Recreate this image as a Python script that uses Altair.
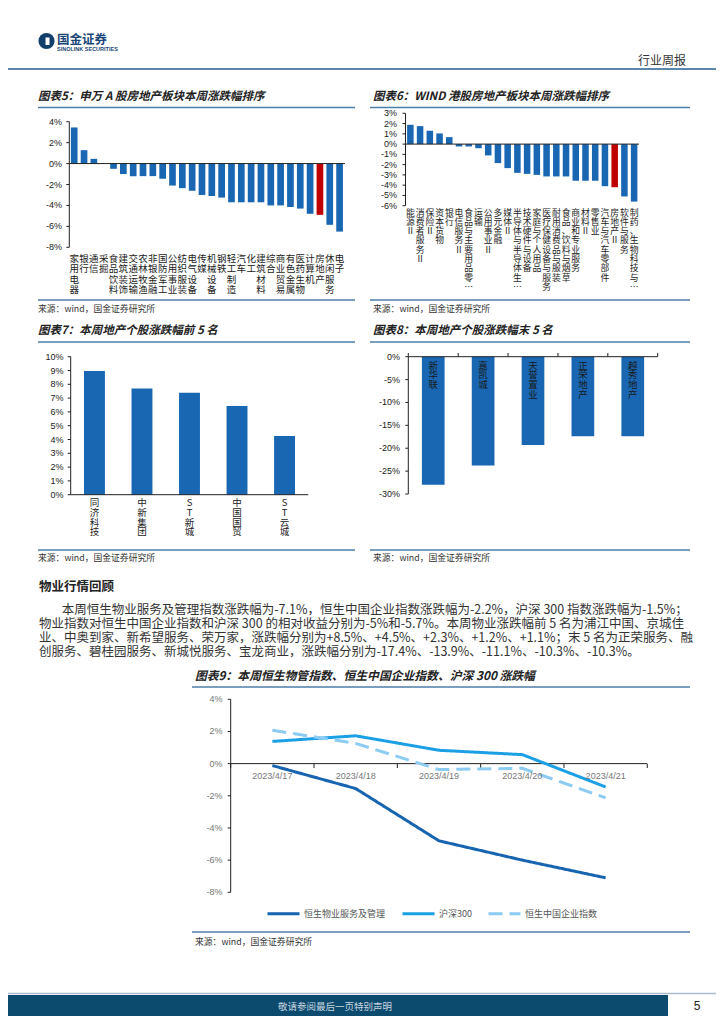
import altair as alt
import pandas as pd

CJK = "Noto Sans CJK SC"
LAT = "Liberation Sans"
BLUE = "#1967b3"
RED = "#c00000"
STEEL = "#4d7ea8"
INK = "#222222"

# ---------------- data ----------------
sw_industries = ["家用电器", "银行", "通信", "采掘", "食品饮料", "建筑装饰", "交通运输", "农林牧渔",
                 "非银金融", "国防军工", "公用事业", "纺织服装", "电气设备", "传媒", "机械设备", "钢铁",
                 "轻工制造", "汽车", "化工", "建筑材料", "综合", "商业贸易", "有色金属", "医药生物",
                 "计算机", "房地产", "休闲服务", "电子"]
sw_changes = [3.45, 1.28, 0.45, 0.0, -0.5, -1.0, -1.2, -1.2, -1.2, -1.45, -2.1, -2.35, -2.6, -3.0,
              -3.1, -3.25, -3.7, -3.7, -3.7, -3.7, -4.0, -4.0, -4.15, -4.3, -4.8, -4.9, -5.85, -6.5]

hk_industries = ["能源Ⅱ", "消费者服务Ⅱ", "保险Ⅱ", "资本货物", "银行", "电信服务Ⅱ", "食品与主要用品零…",
                 "运输", "公用事业Ⅱ", "多元金融", "媒体Ⅱ", "半导体与半导体生…", "技术硬件与设备",
                 "家庭与个人用品", "医疗保健设备与服务", "耐用消费品与服装", "食品、饮料与烟草",
                 "商业和专业服务", "材料Ⅱ", "零售业", "汽车与汽车零部件", "房地产Ⅱ", "软件与服务",
                 "制药、生物科技与…"]
hk_changes = [1.88, 1.75, 1.3, 1.04, 0.68, -0.23, -0.23, -0.4, -1.1, -1.85, -2.34, -2.8, -2.9, -3.0,
              -3.15, -3.15, -3.15, -3.57, -3.57, -3.57, -4.1, -4.2, -5.1, -5.6]

top5_names = ["同济科技", "中新集团", "ST新城", "中国国贸", "ST云城"]
top5_changes = [8.96, 7.7, 7.39, 6.43, 4.25]

bottom5_names = ["新华联", "嘉凯城", "天誉置业", "正荣地产", "越秀地产"]
bottom5_changes = [-28.0, -23.8, -19.3, -17.4, -17.4]

dates = ["2023/4/17", "2023/4/18", "2023/4/19", "2023/4/20", "2023/4/21"]
series_names = ["恒生物业服务及管理", "沪深300", "恒生中国企业指数"]
hs_property = [-0.12, -1.55, -4.8, -6.0, -7.1]
hs300 = [1.38, 1.73, 0.83, 0.56, -1.45]
hscei = [2.07, 1.26, -0.37, -0.29, -2.13]

ticks5 = [4, 2, 0, -2, -4, -6, -8]
ticks6 = [3, 2, 1, 0, -1, -2, -3, -4, -5, -6]
ticks7 = [10, 9, 8, 7, 6, 5, 4, 3, 2, 1, 0]
ticks8 = [0, -5, -10, -15, -20, -25, -30]
ticks9 = [4, 2, 0, -2, -4, -6, -8]

para_lines = [
    "本周恒生物业服务及管理指数涨跌幅为-7.1%，恒生中国企业指数涨跌幅为-2.2%，沪深 300 指数涨跌幅为-1.5%；",
    "物业指数对恒生中国企业指数和沪深 300 的相对收益分别为-5%和-5.7%。本周物业涨跌幅前 5 名为浦江中国、京城佳",
    "业、中奥到家、新希望服务、荣万家，涨跌幅分别为+8.5%、+4.5%、+2.3%、+1.2%、+1.1%；末 5 名为正荣服务、融",
    "创服务、碧桂园服务、新城悦服务、宝龙商业，涨跌幅分别为-17.4%、-13.9%、-11.1%、-10.3%、-10.3%。",
]

SOURCE = "来源：wind，国金证券研究所"


def P(v):
    return v - 8


layers = []
ONE = pd.DataFrame({"k": [0]})


def text(s, x, y, size=10, color=INK, weight="normal", style="normal", font=CJK,
         align="left", baseline="middle"):
    layers.append(
        alt.Chart(pd.DataFrame({"t": [s]}))
        .mark_text(align=align, baseline=baseline, font=font, fontSize=size,
                   fontWeight=weight, fontStyle=style, color=color)
        .encode(x=alt.value(P(x)), y=alt.value(P(y)), text="t:N")
    )


def hline(x1, x2, y, color=STEEL, w=1.5):
    layers.append(
        alt.Chart(ONE).mark_rule(color=color, strokeWidth=w)
        .encode(x=alt.value(P(x1)), x2=alt.value(P(x2)), y=alt.value(P(y)))
    )


def rect(x1, x2, y1, y2, color):
    layers.append(
        alt.Chart(ONE).mark_rect(color=color)
        .encode(x=alt.value(P(x1)), x2=alt.value(P(x2)), y=alt.value(P(y1)), y2=alt.value(P(y2)))
    )


def y_axis(ticks, dom, rng, axis_x, label_x, size=9, color=INK, tick_len=3):
    ys = alt.Scale(domain=dom, range=[P(rng[0]), P(rng[1])], nice=False, zero=False)
    df = pd.DataFrame({"t": ticks, "lab": [f"{t}%" for t in ticks]})
    layers.append(
        alt.Chart(pd.DataFrame({"a": [dom[0]], "b": [dom[1]]}))
        .mark_rule(color=INK, strokeWidth=1)
        .encode(x=alt.value(P(axis_x)), y=alt.Y("a:Q", scale=ys, axis=None), y2="b:Q")
    )
    layers.append(
        alt.Chart(df).mark_rule(color=INK, strokeWidth=1)
        .encode(x=alt.value(P(axis_x - tick_len)), x2=alt.value(P(axis_x)),
                y=alt.Y("t:Q", scale=ys, axis=None))
    )
    layers.append(
        alt.Chart(df).mark_text(align="right", baseline="middle", font=LAT, fontSize=size, color=color)
        .encode(x=alt.value(P(label_x)), y=alt.Y("t:Q", scale=ys, axis=None), text="lab:N")
    )
    return ys


def zero_line(ys, x1, x2, at=0, color=INK):
    layers.append(
        alt.Chart(pd.DataFrame({"z": [at]})).mark_rule(color=color, strokeWidth=1)
        .encode(x=alt.value(P(x1)), x2=alt.value(P(x2)), y=alt.Y("z:Q", scale=ys, axis=None))
    )


def bars(cats, vals, hl, band, pad, ys, label_top, lsize, lh, lcolor=INK):
    xs = alt.Scale(domain=cats, range=[P(band[0]), P(band[1])], paddingInner=pad, paddingOuter=pad / 2)
    df = pd.DataFrame({"c": cats, "v": vals, "lab": ["\n".join(list(s)) for s in cats]})
    color = alt.condition(alt.datum.c == hl, alt.value(RED), alt.value(BLUE)) if hl else alt.value(BLUE)
    layers.append(
        alt.Chart(df).mark_bar()
        .encode(x=alt.X("c:N", scale=xs, axis=None, sort=None),
                y=alt.Y("v:Q", scale=ys, axis=None, stack=None),
                y2=alt.datum(0), color=color)
    )
    layers.append(
        alt.Chart(df).mark_text(baseline="top", lineBreak="\n", lineHeight=lh, font=CJK,
                                fontSize=lsize, color=lcolor)
        .encode(x=alt.X("c:N", scale=xs, axis=None, sort=None), y=alt.value(P(label_top)), text="lab:N")
    )


def boundary_ticks(n, x1, x2, y1, y2):
    xq = alt.Scale(domain=[0, n], range=[P(x1), P(x2)], nice=False, zero=False)
    layers.append(
        alt.Chart(pd.DataFrame({"k": list(range(n + 1))})).mark_rule(color=INK, strokeWidth=1)
        .encode(x=alt.X("k:Q", scale=xq, axis=None), y=alt.value(P(y1)), y2=alt.value(P(y2)))
    )


# ---------------- header ----------------
layers.append(
    alt.Chart(ONE).mark_point(shape="circle", filled=True, size=260, color="#123e6b", opacity=1)
    .encode(x=alt.value(P(46.5)), y=alt.value(P(41)))
)
rect(45.5, 49.5, 37.5, 45, "white")
text("国金证券", 57, 39.5, size=12.5, weight="bold", color="#1a4778")
text("SINOLINK SECURITIES", 57, 48.5, size=5.5, weight="bold", color="#1a4778", font=LAT)
text("行业周报", 638, 61, size=12, color="#333333")
hline(8, 716, 69, color="#5b87ad", w=2)

# ---------------- chart 5 ----------------
text("图表5：申万 A 股房地产板块本周涨跌幅排序", 38, 97, size=11.5, weight="bold", style="italic")
hline(38, 355, 107.5)
ys5 = y_axis(ticks5, [-8, 4], [247.3, 121.7], 69.3, 62)
bars(sw_industries, sw_changes, "房地产", [69.3, 344.5], 0.32, ys5, 254, 9.5, 10.3)
zero_line(ys5, 69.3, 345)
hline(38, 355, 300)
text(SOURCE, 38, 309, size=8.8, color="#333333")

# ---------------- chart 6 ----------------
text("图表6：WIND 港股房地产板块本周涨跌幅排序", 373, 97, size=11.5, weight="bold", style="italic")
hline(370, 690, 107.5)
ys6 = y_axis(ticks6, [-6, 3], [205.7, 113.3], 405.5, 397)
bars(hk_industries, hk_changes, "房地产Ⅱ", [405.5, 639], 0.33, ys6, 208.5, 8.8, 9.3)
zero_line(ys6, 405.5, 639)
hline(370, 690, 300)
text(SOURCE, 373, 309, size=8.8, color="#333333")

# ---------------- chart 7 ----------------
text("图表7：本周地产个股涨跌幅前 5 名", 38, 331, size=11.5, weight="bold", style="italic")
hline(38, 355, 342)
ys7 = y_axis(ticks7, [0, 10], [494.7, 356.7], 70.7, 63.5)
bars(top5_names, top5_changes, None, [70.7, 308.3], 0.56, ys7, 498, 9.5, 9.8)
zero_line(ys7, 70.7, 308.3)
hline(38, 355, 550)
text(SOURCE, 38, 558, size=8.8, color="#333333")

# ---------------- chart 8 ----------------
text("图表8：本周地产个股涨跌幅末 5 名", 373, 331, size=11.5, weight="bold", style="italic")
hline(370, 690, 342)
ys8 = y_axis(ticks8, [-30, 0], [494, 356.7], 408.3, 400)
bars(bottom5_names, bottom5_changes, None, [408.3, 657.7], 0.545, ys8, 360.5, 9.5, 9.8, lcolor="#1a1a1a")
zero_line(ys8, 408.3, 657.7)
boundary_ticks(5, 408.3, 657.7, 353, 356.7)
hline(370, 690, 550)
text(SOURCE, 373, 558, size=8.8, color="#333333")

# ---------------- text section ----------------
text("物业行情回顾", 39, 586.7, size=12.5, weight="bold")
text(para_lines[0], 61.7, 610, size=12.5, color="#333333")
text(para_lines[1], 39, 624.2, size=12.5, color="#333333")
text(para_lines[2], 39, 638.3, size=12.5, color="#333333")
text(para_lines[3], 39, 652.4, size=12.5, color="#333333")

# ---------------- chart 9 ----------------
text("图表9：本周恒生物管指数、恒生中国企业指数、沪深 300 涨跌幅", 195, 676, size=11.8, weight="bold", style="italic")
hline(192, 690, 687)
ys9 = y_axis(ticks9, [-8, 4], [892.3, 699.3], 230.7, 222.5, size=9, color="#777777")
zero_line(ys9, 230.7, 647.3)
boundary_ticks(5, 230.7, 647.3, 764, 768)

xs9 = alt.Scale(type="point", domain=dates, range=[P(230.7), P(647.3)], padding=0.5)
df9 = pd.DataFrame({
    "d": dates * 3,
    "s": [series_names[0]] * 5 + [series_names[1]] * 5 + [series_names[2]] * 5,
    "v": hs_property + hs300 + hscei,
})
leg = alt.Legend(orient="none", legendX=P(266), legendY=P(896), direction="horizontal", title=None,
                 symbolType="stroke", symbolSize=1024, symbolStrokeWidth=3, labelFont=CJK,
                 labelFontSize=9, labelColor="#555555", labelOffset=3, columnPadding=10, padding=0)
layers.append(
    alt.Chart(df9).mark_line(strokeWidth=3)
    .encode(
        x=alt.X("d:N", scale=xs9, axis=None),
        y=alt.Y("v:Q", scale=ys9, axis=None),
        color=alt.Color("s:N", scale=alt.Scale(domain=series_names, range=["#1764b0", "#1ba0e6", "#8ccbf2"]), legend=leg),
        strokeDash=alt.StrokeDash("s:N", scale=alt.Scale(domain=series_names, range=[[1, 0], [1, 0], [14, 7]]), legend=leg),
    )
)
layers.append(
    alt.Chart(pd.DataFrame({"d": dates})).mark_text(baseline="middle", font=LAT, fontSize=9, color="#777777")
    .encode(x=alt.X("d:N", scale=xs9, axis=None), y=alt.value(P(775.5)), text="d:N")
)
hline(192, 690, 932)
text(SOURCE, 195, 942, size=8.8, color="#333333")

# ---------------- footer ----------------
hline(8, 716, 993.5, color="#a9bccd", w=1.5)
rect(8, 668, 995, 1019, "#0c4a6e")
text("敬请参阅最后一页特别声明", 335, 1007, size=9.5, color="#c9d6e0", align="center")
text("5", 697, 1006, size=12, color=INK, font=LAT, align="center")

chart = (
    alt.layer(*layers)
    .resolve_scale(x="independent", y="independent", color="independent", strokeDash="independent")
    .properties(width=708, height=1008, padding=0, autosize=alt.AutoSizeParams(type="none"), background="white")
    .configure_view(stroke=None)
)
chart.save("out.html", embed_options={"renderer": "svg", "actions": False})
